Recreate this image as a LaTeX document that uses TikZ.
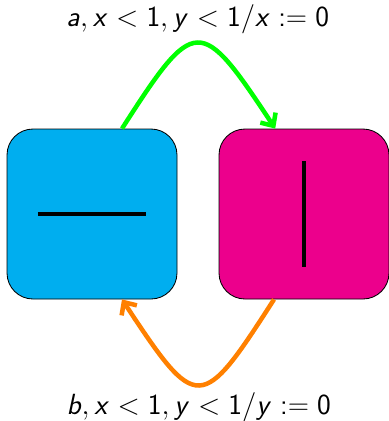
\documentclass[tikz,border=0pt]{standalone}
\usetikzlibrary{arrows.meta}

% sans digits, slanted sans letters
\DeclareMathVersion{sans}
\SetSymbolFont{operators}{sans}{OT1}{cmss}{m}{n}
\DeclareMathAlphabet{\sv}{OT1}{cmss}{m}{sl}

\definecolor{boxcyan}{HTML}{00AEEF}
\definecolor{boxmagenta}{HTML}{EC008C}
\definecolor{flipgreen}{HTML}{00FF00}
\definecolor{fliporange}{HTML}{FF8000}

\tikzset{
    statebox/.style={draw, semithick, rounded corners=0.65cm, minimum size=4.25cm, inner sep=0pt},
    bar/.style={line width=3.5pt},
    flip/.style={line width=3.2pt, -{Straight Barb[length=7pt, width=13pt]}},
    guard/.style={black, inner sep=0pt}
}

\begin{document}
\begin{tikzpicture}[font=\mathversion{sans}\fontsize{20.5}{24}\selectfont]
    \useasboundingbox (0, 0) rectangle (9.725, -10.525);
    \node[statebox, fill=boxcyan] (horiz) at (2.3, -5.35) {};
    \node[statebox, fill=boxmagenta] (vert) at (7.6, -5.35) {};
    \draw[bar]
        ([xshift=-1.35cm]horiz.center) -- ([xshift=1.35cm]horiz.center)
        ([yshift=1.325cm]vert.center) -- ([yshift=-1.325cm]vert.center);
    \draw[flip, flipgreen]
        ([xshift=0.75cm]horiz.north) .. controls +(1.83, 2.85) and +(-1.88, 2.85) .. ([xshift=-0.72cm]vert.north)
        node[midway, above=5pt, guard] {$\sv{a}, \sv{x} < 1, \sv{y} < 1/\sv{x} := 0$};
    \draw[flip, fliporange]
        ([xshift=-0.75cm]vert.south) .. controls +(-1.83, -2.85) and +(1.88, -2.85) .. ([xshift=0.75cm]horiz.south)
        node[midway, below=4pt, guard] {$\sv{b}, \sv{x} < 1, \sv{y} < 1/\sv{y} := 0$};
\end{tikzpicture}
\end{document}
